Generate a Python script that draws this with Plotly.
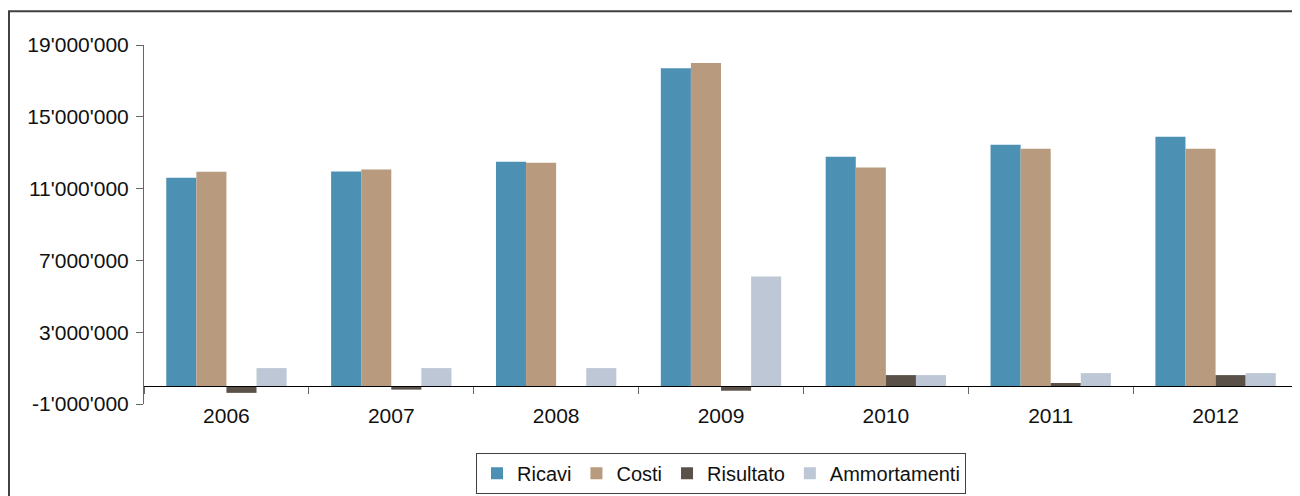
import plotly.graph_objects as go

years = ["2006", "2007", "2008", "2009", "2010", "2011", "2012"]
ricavi = [11600000, 11950000, 12500000, 17700000, 12780000, 13440000, 13890000]
costi = [11940000, 12060000, 12440000, 18000000, 12170000, 13220000, 13220000]
risultato = [-380000, -200000, 0, -260000, 610000, 170000, 610000]
ammortamenti = [1000000, 1000000, 1000000, 6100000, 610000, 720000, 720000]

series_names = ["Ricavi", "Costi", "Risultato", "Ammortamenti"]
series_vals = [ricavi, costi, risultato, ammortamenti]
colors = ["#4C90B4", "#B89B7E", "#5A5249", "#BDC7D6"]

tick_vals = [-1000000, 3000000, 7000000, 11000000, 15000000, 19000000]
tick_text = ["-1'000'000", "3'000'000", "7'000'000", "11'000'000", "15'000'000", "19'000'000"]

FONT = "Liberation Sans, Arial, Helvetica, sans-serif"

fig = go.Figure()
for name, vals, col in zip(series_names, series_vals, colors):
    fig.add_trace(go.Bar(x=years, y=vals, name=name, marker=dict(color=col, line=dict(width=0))))

fig.update_layout(
    width=1292, height=488,
    margin=dict(l=136, r=2, t=37, b=90),
    paper_bgcolor="white", plot_bgcolor="white",
    barmode="group", bargap=0.27, bargroupgap=0,
    font=dict(family=FONT, size=21, color="#111111"),
    showlegend=True,
    legend=dict(orientation="h", x=0.5, xanchor="center", y=-0.1357, yanchor="top",
                bordercolor="#404040", borderwidth=1, font=dict(size=20),
                itemwidth=30, tracegroupgap=0),
    xaxis=dict(type="category", anchor="free", position=0.05,
               showline=True, linecolor="#000000", linewidth=1,
               ticks="outside", tickson="boundaries", ticklen=7, tickcolor="#666666",
               showgrid=False, zeroline=False, ticklabelstandoff=11,
               tickfont=dict(size=21)),
    yaxis=dict(range=[-1000000, 19000000], tickvals=tick_vals, ticktext=tick_text,
               showline=True, linecolor="#666666", linewidth=1,
               ticks="outside", ticklen=7, tickcolor="#666666",
               showgrid=False, zeroline=False, ticklabelstandoff=3,
               tickfont=dict(size=21)),
    shapes=[dict(type="rect", xref="paper", yref="paper",
                 x0=-0.117, x1=1.2, y0=-0.4, y1=1.094,
                 line=dict(color="#404040", width=2), fillcolor="rgba(0,0,0,0)", layer="below")],
)

fig.write_html("out.html")
